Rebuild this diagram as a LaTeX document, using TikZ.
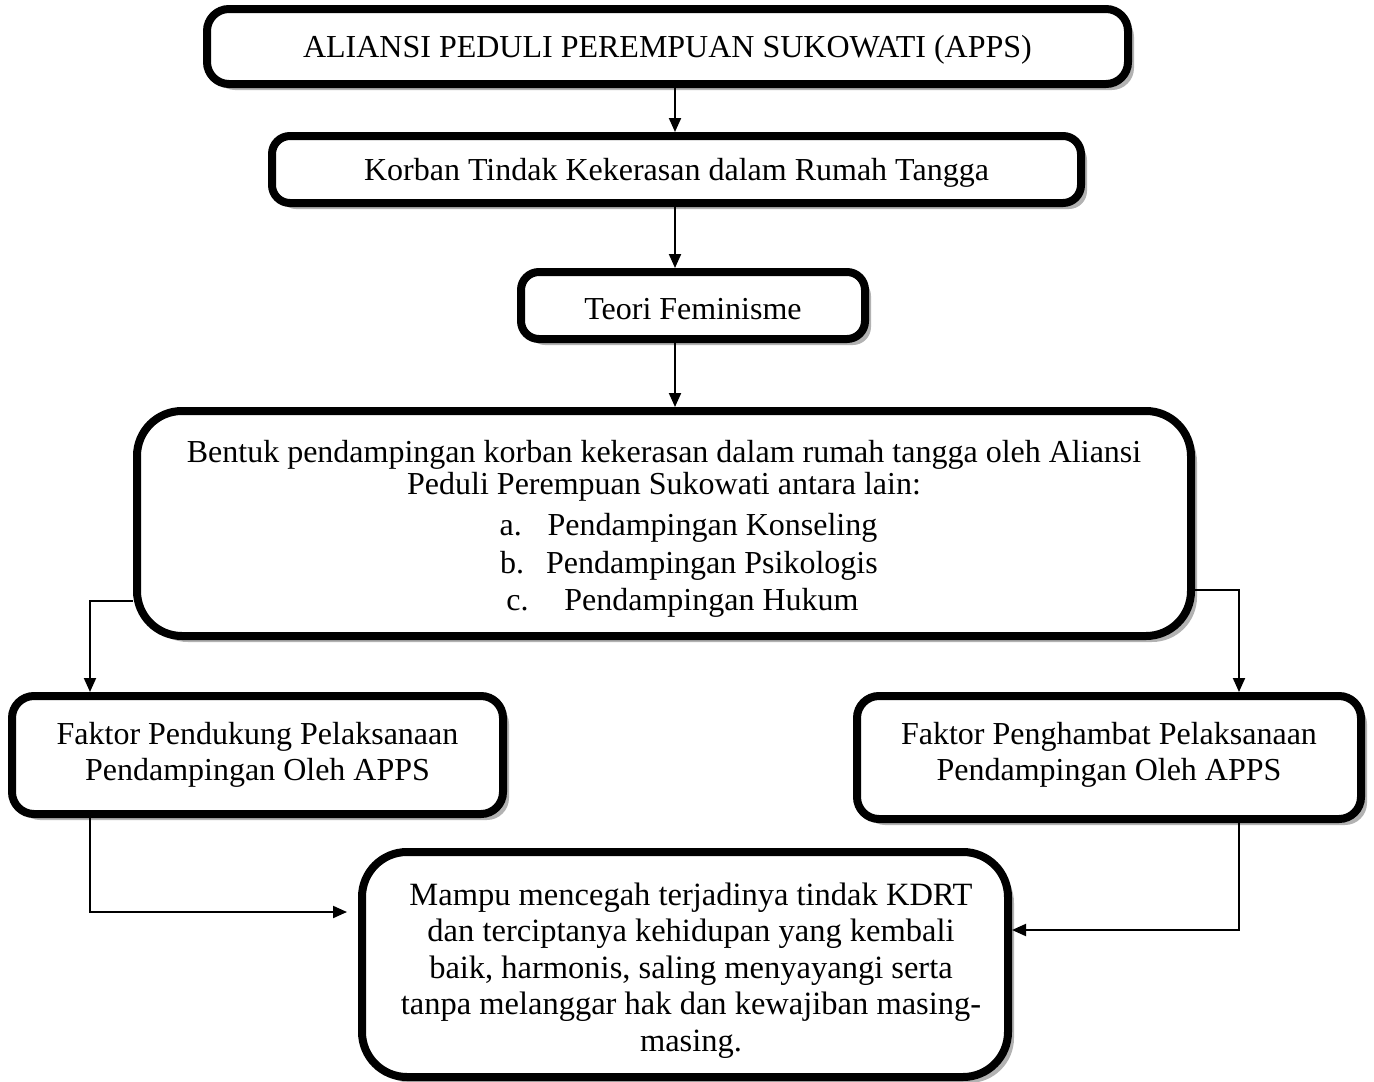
\documentclass[tikz,border=0pt]{standalone}
\usepackage{fontspec}
\setmainfont{Liberation Serif}
\usetikzlibrary{arrows.meta,shadows}
\newcommand\uppad[1]{\rule{0pt}{#1}}
\newcommand\lowpad[1]{\rule[-#1]{0pt}{#1}}
\newcommand\rs{\hspace*{12pt}}
\begin{document}
\begin{tikzpicture}[x=1pt,y=-1pt,
  box/.style={draw, line width=8pt, rounded corners=#1, fill=white, align=center,
    inner sep=0pt, drop shadow={shadow xshift=6pt, shadow yshift=-6pt, fill=black!30, opacity=1},
    font=\fontsize{32}{36}\selectfont},
  box/.default=22pt,
  arr/.style={line width=2pt, -{Triangle[length=14pt,width=12pt]}}]
\useasboundingbox (0,0) rectangle (1374,1082);

\node[box, minimum width=921pt, minimum height=75pt] (b1) at (667.5,46.5)
  {\uppad{28pt}ALIANSI PEDULI PEREMPUAN SUKOWATI (APPS)};
\node[box=18pt, minimum width=809pt, minimum height=67pt] (b2) at (676.5,169.5)
  {\uppad{28pt}Korban Tindak Kekerasan dalam Rumah Tangga};
\node[box=18pt, minimum width=344pt, minimum height=67pt] (b3) at (693,305.5)
  {\uppad{28pt}Teori Feminisme};
\node[box=45pt, minimum width=1054pt, minimum height=225pt] (b4) at (664,523.5)
  {\uppad{32pt}Bentuk pendampingan korban kekerasan dalam rumah tangga oleh Aliansi\\[-4pt]
   Peduli Perempuan Sukowati antara lain:\\[5pt]
   \hspace*{49pt}\makebox[48pt][l]{a.}Pendampingan Konseling\\[2pt]
   \hspace*{50pt}\makebox[46pt][l]{b.}Pendampingan Psikologis\\[1pt]
   \hspace*{37pt}\makebox[58pt][l]{c.}Pendampingan Hukum};
\node[box, minimum width=491pt, minimum height=118pt] (b5) at (257.5,755)
  {Faktor Pendukung Pelaksanaan\\Pendampingan Oleh APPS};
\node[box, minimum width=504pt, minimum height=123pt] (b6) at (1109,757.5)
  {Faktor Penghambat Pelaksanaan\\Pendampingan Oleh APPS\lowpad{13pt}};
\node[box=45pt, minimum width=646pt, minimum height=225pt,
      font=\fontsize{32.5}{36.5}\selectfont] (b7) at (685,964.5)
  {\rs\uppad{34pt}Mampu mencegah terjadinya tindak KDRT\\
   \rs dan terciptanya kehidupan yang kembali\\
   \rs baik, harmonis, saling menyayangi serta\\
   \rs tanpa melanggar hak dan kewajiban masing-\\
   \rs masing.};

\coordinate (ax) at (675,0);
\coordinate (lx) at (90,601);
\coordinate (rx) at (1239,590);
\coordinate (lo) at (90,912);
\coordinate (ro) at (1239,930);

\draw[arr] (b1.south -| ax) -- (b2.north -| ax);
\draw[arr] (b2.south -| ax) -- (b3.north -| ax);
\draw[arr] (b3.south -| ax) -- (b4.north -| ax);
\draw[arr] (lx -| b4.west) -- (lx) -- (b5.north -| lx);
\draw[arr] (rx -| b4.east) -- (rx) -- (b6.north -| rx);
\draw[arr, shorten >=11pt] (b5.south -| lo) -- (lo) -- (lo -| b7.west);
\draw[arr] (b6.south -| ro) -- (ro) -- (ro -| b7.east);
\end{tikzpicture}
\end{document}
